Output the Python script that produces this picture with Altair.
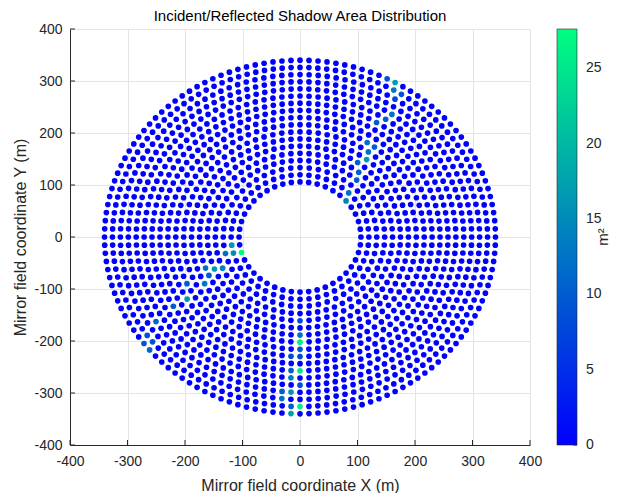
import altair as alt
import numpy as np
import pandas as pd

# ---- data ----
ring_radius = [106, 119.8, 133.5, 147.3, 161.0, 174.8, 188.6, 202.3, 216.1,
               229.8, 243.6, 257.4, 271.1, 284.9, 298.6, 312.4, 326.2, 340.0]
ring_count = [44, 48, 52, 60, 64, 72, 76, 80, 88,
              92, 100, 104, 108, 116, 120, 124, 132, 136]

# shaded heliostats (x, y, shadow area m^2)
shade_x = [-102.3, -105.2, -116.8, -115.6, -129.5, -138.1, -148.5, -163.0, -160.1,
           -171.6, -197.6, -198.8, -217.9, -246.7, -265.8, -258.3, -269.8, -261.2,
           1.7, 1.7, -5.8, 7.5, 0.6, -9.9, 1.7, -17.4, -2.4, -14.5, 0.0, -34.1,
           -17.4, -29.0, -18.5, -2.9, -19.7,
           169.2, 156.0, 160.5, 173.8, 165.2, 157.7, 143.2, 131.7, 120.1, 128.8,
           114.4, 117.2, 105.7, 97.0, 105.7, 91.2, 99.8, 79.7, 88.4]
shade_y = [-34.6, -23.1, -23.1, -35.9, -30.8, -53.2, -62.8, -61.5, -72.4,
           -85.2, -85.2, -112.7, -133.1, -165.1, -184.3, -195.8, -200.3, -213.1,
           -161.9, -187.5, -202.2, -202.2, -216.3, -230.4, -230.4, -256.7, -256.7,
           -270.8, -283.5, -296.3, -297.5, -311.6, -325.0, -326.3, -339.0,
           292.3, 300.6, 281.4, 273.1, 263.5, 236.1, 228.4, 218.8, 180.4, 170.8,
           158.0, 149.7, 142.0, 129.2, 119.6, 110.0, 100.4, 77.9, 66.4]
shade_v = [27, 12, 16, 15, 12, 14, 16, 12, 10,
           13, 10, 16, 10, 11, 9, 9, 9, 11,
           8, 12, 14, 26, 9, 8, 8, 10, 25, 14, 9, 10,
           16, 12, 10, 26, 17,
           17, 9, 13, 9, 8, 12, 10, 10, 12, 10,
           12, 16, 10, 9, 10, 9, 10, 12, 14]

x_ticks = [-400, -300, -200, -100, 0, 100, 200, 300, 400]
y_ticks = [-400, -300, -200, -100, 0, 100, 200, 300, 400]
cbar_ticks = [0, 5, 10, 15, 20, 25]
cbar_max = 27.6

# ---- build table ----
xs, ys = [], []
for r, n in zip(ring_radius, ring_count):
    for k in range(n):
        a = 2 * np.pi * k / n
        xs.append(r * np.cos(a))
        ys.append(r * np.sin(a))
df = pd.DataFrame({"x": xs, "y": ys, "area": 0.0})
for sx, sy, v in zip(shade_x, shade_y, shade_v):
    i = int(np.argmin((df["x"] - sx) ** 2 + (df["y"] - sy) ** 2))
    df.loc[i, "area"] = max(df.loc[i, "area"], v)
df = df.sort_values("area").reset_index(drop=True)

W, H = 460, 416
FONT = "Liberation Sans"
DARK = "#262626"
HYPHEN = "'' + datum.value"
XY = alt.Scale(domain=[-400, 400], nice=False)
CB = alt.Scale(domain=[0, cbar_max], nice=False)
CB_LEFT = 487
CB_W = 20

points = alt.Chart(df).mark_circle(size=32, opacity=1).encode(
    x=alt.X("x:Q", scale=XY,
            axis=alt.Axis(values=x_ticks, labelExpr=HYPHEN,
                          title="Mirror field coordinate X (m)")),
    y=alt.Y("y:Q", scale=XY,
            axis=alt.Axis(values=y_ticks, labelExpr=HYPHEN,
                          title="Mirror field coordinate Y (m)")),
    color=alt.Color("area:Q",
                    scale=alt.Scale(domain=[0, cbar_max], range=["#0000ff", "#00ff80"],
                                    interpolate="rgb"),
                    legend=alt.Legend(orient="none", legendX=CB_LEFT, legendY=0,
                                      direction="vertical", gradientLength=H,
                                      gradientThickness=CB_W, title=None,
                                      values=cbar_ticks, labelOpacity=0,
                                      labelFontSize=1,
                                      gradientStrokeColor=DARK,
                                      gradientStrokeWidth=0.6)),
    order=alt.Order("area:Q"),
)

xt = pd.DataFrame({"t": x_ticks})
yt = pd.DataFrame({"t": y_ticks})
ct = pd.DataFrame({"t": cbar_ticks})
xtick_rules = alt.Chart(xt).mark_rule(color=DARK, strokeWidth=1).encode(
    x=alt.X("t:Q", scale=XY), y=alt.value(H), y2=alt.value(H - 5))
ytick_rules = alt.Chart(yt).mark_rule(color=DARK, strokeWidth=1).encode(
    y=alt.Y("t:Q", scale=XY, axis=None), x=alt.value(0), x2=alt.value(5))
cbar_tick_rules = alt.Chart(ct).mark_rule(color=DARK, strokeWidth=1).encode(
    y=alt.Y("t:Q", scale=CB, axis=None),
    x=alt.value(CB_LEFT + CB_W - 4), x2=alt.value(CB_LEFT + CB_W))
cbar_labels = alt.Chart(ct).mark_text(
    font=FONT, fontSize=14, color=DARK, align="left", baseline="middle").encode(
    y=alt.Y("t:Q", scale=CB, axis=None), x=alt.value(CB_LEFT + CB_W + 9),
    text=alt.Text("t:Q"))

unit = alt.Chart(pd.DataFrame({"t": ["m²"]})).mark_text(
    font=FONT, fontSize=15, color=DARK, angle=270, align="center",
    baseline="middle").encode(text="t:N", x=alt.value(533), y=alt.value(H / 2))

chart = alt.layer(points, xtick_rules, ytick_rules, cbar_tick_rules,
                  cbar_labels, unit).resolve_scale(y="independent").properties(
    width=W, height=H,
    title=alt.TitleParams("Incident/Reflected Shadow Area Distribution",
                          font=FONT, fontSize=15, fontWeight="normal",
                          color="#000000", offset=1, dy=3),
    autosize=alt.AutoSizeParams(type="none"),
    padding={"left": 62, "top": 21, "right": 95, "bottom": 48},
).configure_view(stroke=None).configure_axis(
    labelFont=FONT, labelFontSize=14, labelColor=DARK, labelFlush=False,
    titleFont=FONT, titleFontSize=16, titleFontWeight="normal", titleColor=DARK,
    domainColor=DARK, domainWidth=1, tickSize=0,
    gridColor="#e4e4e4", gridWidth=1,
).configure_axisX(labelPadding=9, titlePadding=9).configure_axisY(
    labelPadding=8, titlePadding=5)

chart.save("out.html", embed_options={"renderer": "svg", "actions": False})
